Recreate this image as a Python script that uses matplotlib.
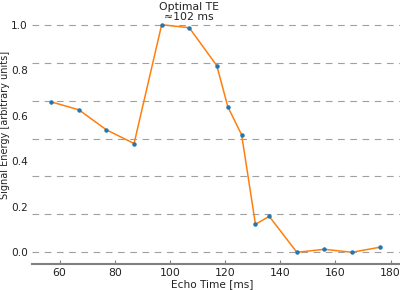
import numpy as np
import matplotlib
matplotlib.use('Agg')
import matplotlib.pyplot as plt

# Echo times and normalised signal energy
echo_time = [57, 67, 77, 87, 97, 107, 117, 121, 126, 131, 136, 146, 156, 166, 176]
energy = [0.661, 0.626, 0.538, 0.478, 1.0, 0.987, 0.820, 0.639, 0.516,
          0.123, 0.158, 0.0, 0.013, 0.0, 0.022]
y_ticks = [0.0, 0.2, 0.4, 0.6, 0.8, 1.0]
x_ticks = [60, 80, 100, 120, 140, 160, 180]
grid_levels = [0, 1/6, 2/6, 3/6, 4/6, 5/6, 1]
note = 'Optimal TE\n≈102 ms'

fig = plt.figure(figsize=(4, 2.9), dpi=100)
ax = fig.add_axes([32/400, 1 - 264/290, 368/400, 262/290])

# dashed guide lines (spaced in sixths, not at the tick labels)
for g in grid_levels:
    ax.axhline(g, color='#a0a0a0', lw=0.8, ls=(0, (6, 5)), zorder=0)

ax.plot(echo_time, energy, color='#ff7f0e', lw=1.1, zorder=2)
ax.plot(echo_time, energy, 'o', color='#1f77b4', ms=2.2, zorder=3)

ax.text(107, 1.012, note, ha='center', va='bottom', fontsize=7.8,
        multialignment='center', color='#222222', linespacing=1.05)

ax.set_xlim(50, 183.4)
ax.set_ylim(-0.0515, 1.1)
ax.set_xticks(x_ticks)
ax.set_yticks(y_ticks)
ax.set_yticklabels([f'{t:.1f}' for t in y_ticks])

for s in ['top', 'right', 'left']:
    ax.spines[s].set_visible(False)
ax.spines['bottom'].set_color('#808080')
ax.spines['bottom'].set_linewidth(1.5)

ax.tick_params(axis='x', direction='in', length=3, color='#808080',
               labelsize=7.8, labelcolor='#222222', pad=3)
ax.tick_params(axis='y', length=0, labelsize=7.6, labelcolor='#222222', pad=3)

ax.set_xlabel('Echo Time [ms]', fontsize=7.6, color='#222222')
ax.set_ylabel('Signal Energy [arbitrary units]', fontsize=7.0, color='#222222')
ax.xaxis.set_label_coords((212 - 32) / 368, -(284 - 264) / 262)
ax.yaxis.set_label_coords(-(32 - 5.5) / 368, (264 - 125) / 262)
ax.xaxis.label.set_va('center')
ax.yaxis.label.set_va('center')

fig.savefig('out.png', dpi=100)
